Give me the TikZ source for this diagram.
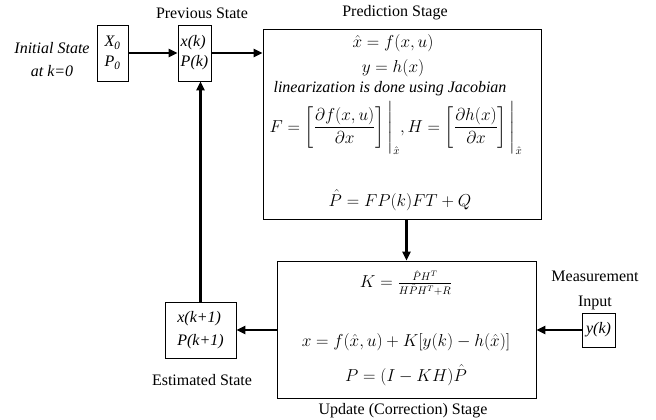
\documentclass[tikz,border=0pt]{standalone}
\usepackage{amsmath}
\usepackage{fontspec}
\setmainfont{Liberation Serif}
\usetikzlibrary{arrows.meta,calc}
\begin{document}
\begin{tikzpicture}[x=1pt,y=-1pt,
  box/.style={draw,line width=0.8pt,inner sep=0pt,align=left},
  conn/.style={line width=2.6pt,-{Triangle[length=9pt,width=8pt]}},
  lbl/.style={font=\fontsize{16}{17}\selectfont,inner sep=0pt},
  eq/.style={font=\fontsize{16}{18}\selectfont,inner sep=0pt}]
\useasboundingbox (0,0) rectangle (656,420);
% boxes
\node[box,minimum width=31pt,minimum height=56pt,font=\fontsize{16}{20}\selectfont\itshape] (init) at (112.5,53) {X\textsubscript{0}\\P\textsubscript{0}};
\node[box,minimum width=33pt,minimum height=56pt,font=\fontsize{16}{20}\selectfont\itshape] (prev) at (194.5,53) {x(k)\\P(k)};
\node[box,minimum width=278pt,minimum height=190pt] (pred) at (402,124) {};
\node[box,minimum width=259pt,minimum height=137pt] (upd) at (406.5,329.5) {};
\node[box,minimum width=71pt,minimum height=56pt,font=\fontsize{16}{23}\selectfont\itshape] (est) at (200.5,330) {x(k+1)\\P(k+1)};
\node[box,minimum width=33pt,minimum height=34pt,font=\fontsize{16}{19}\selectfont\itshape] (meas) at (598.5,330) {y(k)};
% labels
\node[lbl,font=\fontsize{16}{23}\selectfont\itshape,align=center] (initlbl) at (52,60) {Initial State\\at k=0};
\node[lbl] (prevlbl) at (202,13) {Previous State};
\node[lbl] (predlbl) at (395,13) {Prediction Stage};
\node[lbl] (updlbl) at (403,411) {Update (Correction) Stage};
\node[lbl,align=center,font=\fontsize{16}{25}\selectfont] (measlbl) at (595,290) {Measurement\\Input};
\node[lbl] (estlbl) at (202,380) {Estimated State};
% prediction contents
\node[eq] (e1) at (393,43) {$\hat{x} = f(x,u)$};
\node[eq] (e2) at (393,68) {$y = h(x)$};
\node[eq,font=\fontsize{16}{18}\selectfont\itshape] (e3) at (390,89) {linearization is done using Jacobian};
\node[eq] (e4) at (396,128) {$F = \left[\dfrac{\partial f(x,u)}{\partial x}\right]\Bigg|_{\hat{x}},H = \left[\dfrac{\partial h(x)}{\partial x}\right]\Bigg|_{\hat{x}}$};
\node[eq] (e5) at (400,200) {$\hat{P} = FP(k)FT + Q$};
% update contents
\node[eq] (u1) at (406,283) {$K = \frac{\hat{P}H^{T}}{H\hat{P}H^{T}+R}$};
\node[eq] (u2) at (406,342) {$x = f(\hat{x},u) + K[y(k) - h(\hat{x})]$};
\node[eq] (u3) at (406,375) {$P = (I - KH)\hat{P}$};
% connectors
\draw[conn] (init.east) -- (prev.west);
\draw[conn] (prev.east) -- (prev.east -| pred.west);
\draw[conn] (upd.north |- pred.south) -- (upd.north);
\draw[conn] (meas.west) -- (meas.west -| upd.east);
\draw[conn] (est.east -| upd.west) -- (est.east);
\draw[conn] (est.north) -- (est.north |- prev.south);
\end{tikzpicture}
\end{document}
